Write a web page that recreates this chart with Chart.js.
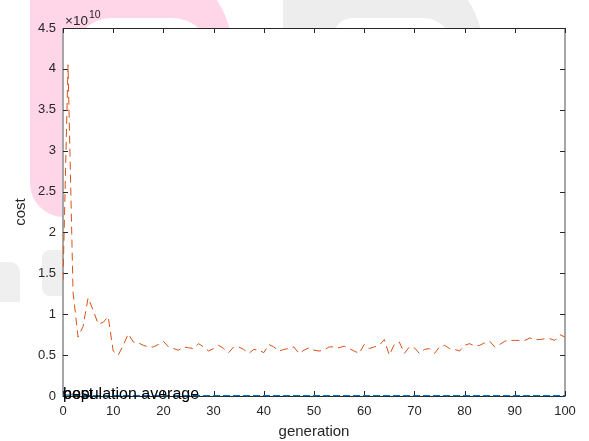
<!DOCTYPE html>
<html>
<head>
<meta charset="utf-8">
<script src="https://cdn.jsdelivr.net/npm/chart.js@4.4.1/dist/chart.umd.min.js"></script>
<style>
  html, body { margin: 0; padding: 0; background: #ffffff; }
  #wrap { position: relative; width: 589px; height: 441px; overflow: hidden; background: #ffffff; }
  .wm { position: absolute; }
  canvas { position: absolute; left: 0; top: 0; }
</style>
</head>
<body>
<div id="wrap">
  <!-- faint watermark shapes behind the figure -->
  <div class="wm" style="left:30px; top:-40px; width:202px; height:257px; background:#ffd5e8; border-radius:0 90px 0 34px;"></div>
  <div class="wm" style="left:72px; top:18px; width:140px; height:60px; background:#ffffff; border-radius:40px 40px 0 0;"></div>
  <div class="wm" style="left:283px; top:-40px; width:200px; height:90px; background:#ededed; border-radius:0 90px 0 0;"></div>
  <div class="wm" style="left:333px; top:18px; width:120px; height:40px; background:#ffffff; border-radius:20px 30px 0 0;"></div>
  <div class="wm" style="left:0px; top:262px; width:20px; height:40px; background:#efefef; border-radius:0 10px 0 0;"></div>
  <div class="wm" style="left:42px; top:250px; width:21px; height:46px; background:#efefef; border-radius:8px 0 0 8px;"></div>
  <canvas id="c" width="589" height="441"></canvas>
</div>
<script>
// ---- data (cost values in units of 1e10) ----
const EXPONENT = 10;
const generations = [
  0,1,2,3,4,5,6,7,8,9,10,11,12,13,14,15,16,17,18,19,20,
  21,22,23,24,25,26,27,28,29,30,31,32,33,34,35,36,37,38,39,40,
  41,42,43,44,45,46,47,48,49,50,51,52,53,54,55,56,57,58,59,60,
  61,62,63,64,65,66,67,68,69,70,71,72,73,74,75,76,77,78,79,80,
  81,82,83,84,85,86,87,88,89,90,91,92,93,94,95,96,97,98,99,100
];
const populationAverage = [
  1.42,4.05,1.27,0.72,0.85,1.20,1.05,0.88,0.90,0.97,0.55,
  0.50,0.62,0.76,0.66,0.65,0.62,0.60,0.60,0.63,0.67,
  0.60,0.58,0.56,0.60,0.59,0.58,0.64,0.60,0.55,0.58,
  0.62,0.58,0.53,0.60,0.60,0.57,0.52,0.57,0.56,0.53,
  0.63,0.60,0.55,0.57,0.58,0.60,0.52,0.56,0.59,0.56,
  0.55,0.56,0.60,0.60,0.59,0.61,0.58,0.55,0.52,0.63,
  0.58,0.60,0.62,0.69,0.50,0.63,0.66,0.52,0.60,0.59,
  0.52,0.57,0.58,0.52,0.60,0.62,0.58,0.57,0.55,0.62,
  0.64,0.61,0.62,0.65,0.67,0.60,0.63,0.67,0.68,0.68,
  0.68,0.68,0.71,0.69,0.69,0.70,0.70,0.68,0.75,0.72
];
const best = [
  0.012,0.010,0.008,0.007,0.006,0.006,0.005,0.005,0.005,0.005,0.004,
  0.004,0.004,0.004,0.004,0.004,0.004,0.004,0.004,0.004,0.004,
  0.004,0.004,0.004,0.004,0.004,0.004,0.004,0.004,0.004,0.004,
  0.004,0.004,0.004,0.004,0.004,0.004,0.004,0.004,0.004,0.004,
  0.004,0.004,0.004,0.004,0.004,0.004,0.004,0.004,0.004,0.004,
  0.004,0.004,0.004,0.004,0.004,0.004,0.004,0.004,0.004,0.004,
  0.004,0.004,0.004,0.004,0.004,0.004,0.004,0.004,0.004,0.004,
  0.004,0.004,0.004,0.004,0.004,0.004,0.004,0.004,0.004,0.004,
  0.004,0.004,0.004,0.004,0.004,0.004,0.004,0.004,0.004,0.004,
  0.004,0.004,0.004,0.004,0.004,0.004,0.004,0.004,0.004,0.004
];
const seriesNames = ['best', 'population average'];
const xTicks = [0,10,20,30,40,50,60,70,80,90,100];
const yTicks = [0,0.5,1,1.5,2,2.5,3,3.5,4,4.5];
const xLabel = 'generation';
const yLabel = 'cost';

const FONT = '"Liberation Sans", Arial, Helvetica, sans-serif';
const TXT = '#262626';

const toPts = (ys) => generations.map((g, i) => ({ x: g, y: ys[i] }));

const framePlugin = {
  id: 'matlabFrame',
  beforeDraw(chart) {
    const { ctx, chartArea: a } = chart;
    ctx.save();
    ctx.fillStyle = '#ffffff';
    ctx.fillRect(a.left, a.top, a.right - a.left, a.bottom - a.top);
    ctx.restore();
  },
  beforeDatasetsDraw(chart) {
    const { ctx, chartArea: a, scales } = chart;
    ctx.save();
    ctx.lineWidth = 1;
    ctx.strokeStyle = TXT;
    ctx.beginPath();
    ctx.moveTo(a.left, a.top + 0.5); ctx.lineTo(a.right, a.top + 0.5);
    ctx.moveTo(a.left, a.bottom + 0.5); ctx.lineTo(a.right, a.bottom + 0.5);
    ctx.stroke();
    ctx.strokeStyle = '#a6a6a6';
    ctx.lineWidth = 2;
    ctx.beginPath();
    ctx.moveTo(a.left, a.top); ctx.lineTo(a.left, a.bottom + 1);
    ctx.moveTo(a.right, a.top); ctx.lineTo(a.right, a.bottom + 1);
    ctx.stroke();
    ctx.strokeStyle = TXT;
    ctx.lineWidth = 1;
    ctx.beginPath();
    const tl = 5;
    xTicks.forEach(v => {
      const px = Math.round(scales.x.getPixelForValue(v)) + 0.5;
      ctx.moveTo(px, a.bottom); ctx.lineTo(px, a.bottom - tl);
      ctx.moveTo(px, a.top); ctx.lineTo(px, a.top + tl);
    });
    yTicks.forEach(v => {
      const py = Math.round(scales.y.getPixelForValue(v)) + 0.5;
      ctx.moveTo(a.left, py); ctx.lineTo(a.left + tl, py);
      ctx.moveTo(a.right, py); ctx.lineTo(a.right - tl, py);
    });
    ctx.stroke();
    ctx.restore();
  },
  afterDraw(chart) {
    const { ctx, chartArea: a } = chart;
    ctx.save();
    ctx.fillStyle = TXT;
    ctx.textBaseline = 'alphabetic';
    ctx.textAlign = 'left';
    ctx.font = '13.5px ' + FONT;
    const base = '\u00d710';
    ctx.fillText(base, a.left + 2, a.top - 3);
    const w = ctx.measureText(base).width;
    ctx.font = '10.5px ' + FONT;
    ctx.fillText(String(EXPONENT), a.left + 2 + w + 1, a.top - 10);
    ctx.fillStyle = '#000000';
    ctx.font = '16px ' + FONT;
    ctx.textBaseline = 'middle';
    seriesNames.forEach(name => {
      ctx.fillText(name, a.left, a.bottom - 1);
    });
    ctx.restore();
  }
};

new Chart(document.getElementById('c'), {
  type: 'line',
  data: {
    datasets: [
      {
        label: seriesNames[1],
        data: toPts(populationAverage),
        borderColor: '#D95319',
        borderWidth: 1,
        borderDash: [8, 5],
        pointRadius: 0,
        tension: 0,
        fill: false,
        order: 2
      },
      {
        label: seriesNames[0],
        data: toPts(best),
        borderColor: '#0072BD',
        borderWidth: 1.3,
        borderDash: [7, 3],
        pointRadius: 0,
        tension: 0,
        fill: false,
        clip: 3,
        order: 1
      }
    ]
  },
  options: {
    responsive: false,
    animation: false,
    devicePixelRatio: 1,
    layout: { padding: { top: 28, right: 24, left: 0, bottom: 0 } },
    plugins: { legend: { display: false }, tooltip: { enabled: false } },
    scales: {
      x: {
        type: 'linear',
        min: 0, max: 100,
        afterBuildTicks: (s) => { s.ticks = xTicks.map(v => ({ value: v })); },
        afterFit: (s) => { s.height = 45; },
        grid: { display: false, drawTicks: false },
        border: { display: false },
        ticks: { color: TXT, font: { family: FONT, size: 13 }, padding: 8, maxRotation: 0, autoSkip: false,
                 callback: (v) => String(v) },
        title: { display: true, text: xLabel, color: TXT, font: { family: FONT, size: 15 }, padding: { top: 0, bottom: 0 } }
      },
      y: {
        type: 'linear',
        min: 0, max: 4.5,
        afterBuildTicks: (s) => { s.ticks = yTicks.map(v => ({ value: v })); },
        afterFit: (s) => { s.width = 63; },
        grid: { display: false, drawTicks: false },
        border: { display: false },
        ticks: { color: TXT, font: { family: FONT, size: 13 }, padding: 7, autoSkip: false,
                 callback: (v) => String(v) },
        title: { display: true, text: yLabel, color: TXT, font: { family: FONT, size: 15 }, padding: { top: 12, bottom: 0 } }
      }
    }
  },
  plugins: [framePlugin]
});
</script>
</body>
</html>
